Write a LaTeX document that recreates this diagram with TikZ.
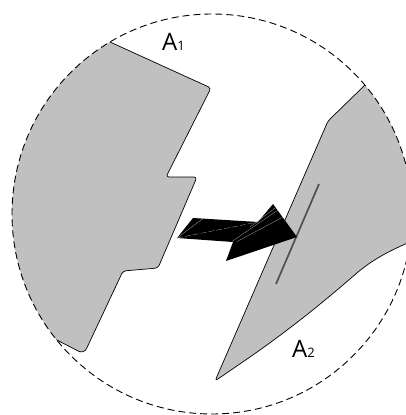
\documentclass[tikz,border=0pt]{standalone}
\usepackage{fontspec}
\setmainfont{Open Sans}
\definecolor{shapegray}{HTML}{C0C0C0}
\definecolor{rodgray}{HTML}{505050}
\begin{document}
\begin{tikzpicture}[x=1pt,y=-1pt,
  region/.style={fill=shapegray,draw=black,line width=0.7pt},
  boundary/.style={draw=black,line width=0.9pt,dash pattern=on 7pt off 4pt},
  rod/.style={draw=rodgray,line width=1.7pt},
  bolt/.style={fill=black},
  streak/.style={draw=gray!70,line width=0.3pt},
  lab/.style={anchor=base west,inner sep=0pt}]
\useasboundingbox (0,0) rectangle (406,415);
\coordinate (c) at (212,214);
\begin{scope}
  \clip (c) circle (200);
  % region A1
  \path[region] (80,28) -- (110,42) [rounded corners=3] -- (211,88) -- (166,177) -- (197,177) -- (158,268) -- (123,271) [rounded corners=6] -- (84,354) [rounded corners=0] -- (53,338) -- (30,327) -- (0,300) -- (0,0) -- cycle;
  % region A2
  \path[region] (400,50) -- (365,85) [rounded corners=3] -- (328,121) -- (215,381) -- (250,357) [sharp corners] .. controls (300,322) and (335,292) .. (358,272) .. controls (380,254) and (398,247) .. (440,229) -- (440,50) -- cycle;
\end{scope}
\draw[boundary] (c) circle (200);
% rod
\coordinate (r1) at (319,184);
\coordinate (r2) at (276,284);
\draw[rod] (r1) -- (r2);
% arrow
\coordinate (t1) at (177,238);
\coordinate (t2) at (193,218);
\coordinate (s1) at (258,222);
\coordinate (b1) at (273,204);
\coordinate (tip) at (297,237);
\coordinate (b2) at (226,261);
\coordinate (n) at (233,242);
\fill[bolt] (t1) -- (t2) -- (s1) -- (b1) -- (tip) -- (b2) -- (n) -- cycle;
\draw[streak] (t1) -- (203,218.5);
\draw[streak,dash pattern=on 6pt off 2pt] (t1) -- (s1);
\draw[streak] (232,241.5) -- (278,210);
\draw[streak] (237,241.5) -- (283,217);
\draw[streak] (250,227) -- (275,208);
% labels
\node[lab] (a1) at (162,50) {{\fontsize{24}{24}\selectfont A}{\fontsize{13}{13}\selectfont 1}};
\node[lab] (a2) at (292,357) {{\fontsize{24}{24}\selectfont A}{\fontsize{13}{13}\selectfont 2}};
\end{tikzpicture}
\end{document}
